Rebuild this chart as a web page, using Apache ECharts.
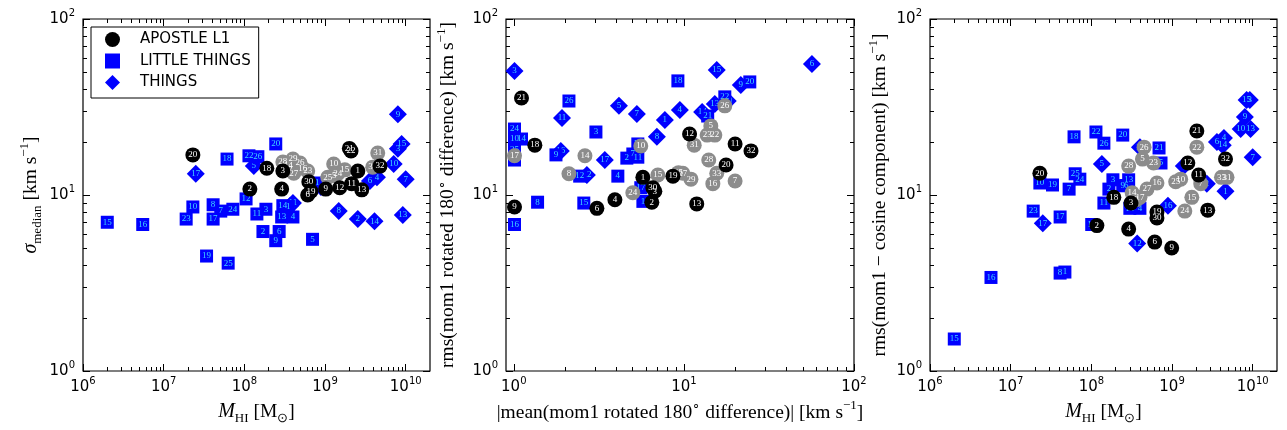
<!DOCTYPE html>
<html>
<head>
<meta charset="utf-8">
<script src="https://cdn.jsdelivr.net/npm/echarts@6/dist/echarts.min.js"></script>
<style>
html,body{margin:0;padding:0;background:#fff}
#main{width:1287px;height:430px}
</style>
</head>
<body>
<div id="main"></div>
<script>
// axis ranges and decade tick exponents
var massRange = [1e6, 2e10];
var meanRange = [0.9, 100];
var rmsRange = [1, 100];
var massExp = [6, 7, 8, 9, 10];
var meanExp = [0, 1, 2];
var rmsExp = [0, 1, 2];

// panel 1: sigma_median vs M_HI   [x, y, galaxy number]
var p1Apostle = [[2.3e7,16.9,20],[1.9e8,14.2,18],[3.0e8,13.7,3],[2.0e9,18.4,21],[2.1e9,17.8,22],[2.55e9,13.7,1],[4.8e9,14.6,32],[1.17e8,10.8,2],[2.9e8,10.8,4],[6.3e8,11.9,30],[6.7e8,10.5,19],[6.1e8,10.0,6],[1.02e9,10.8,9],[1.52e9,11.0,12],[2.14e9,11.6,11],[2.85e9,10.7,13]];
var p1Grey = [[3.0e8,15.4,28],[4.0e8,16.0,29],[4.9e8,15.2,26],[4.1e8,13.3,27],[3.5e8,14.6,14],[6.1e8,13.7,23],[1.28e9,15.0,10],[1.44e9,13.2,24],[1.08e9,12.6,25],[1.76e9,13.9,15],[4.5e9,17.3,31],[3.9e9,14.4,33],[5.3e8,14.2,16],[3.5e8,13.9,17],[1.3e9,12.9,5]];
var p1Little = [[2.0e6,7.0,15],[5.5e6,6.8,16],[1.9e7,7.3,23],[2.3e7,8.55,10],[4.1e7,8.8,8],[5.1e7,8.1,7],[4.1e7,7.3,17],[7.2e7,8.3,24],[6.1e7,16.0,18],[3.4e7,4.5,19],[6.3e7,4.1,25],[2.45e8,19.5,20],[1.14e8,16.7,22],[1.47e8,16.5,26],[1.05e8,9.5,12],[1.85e8,8.3,3],[1.43e8,7.8,11],[3.0e8,8.7,14],[2.9e8,7.5,13],[4.0e8,7.5,4],[1.7e8,6.2,2],[2.7e8,6.2,6],[2.45e8,5.5,9],[7.0e8,5.6,5],[7.5e8,11.7,21],[3.5e8,8.6,1]];
var p1Things = [[2.5e7,13.2,17],[1.31e8,14.6,5],[4.0e8,9.0,11],[3.7e8,8.7,12],[8.9e8,11.1,16],[1.48e9,8.1,8],[2.55e9,7.3,2],[4.1e9,7.1,14],[3.6e9,12.0,6],[4.4e9,12.6,4],[7.1e9,15.0,10],[8.0e9,28.8,9],[8.9e9,19.5,15],[8.0e9,18.3,3],[1.0e10,12.3,7],[9.2e9,7.7,13]];

// panel 2: rms vs |mean| of mom1 rotated 180 deg difference
var p2Apostle = [[1.11,35.6,21],[1.33,19.2,18],[1.01,8.55,9],[3.08,8.4,6],[3.93,9.4,4],[5.74,12.6,1],[6.57,11.0,30],[6.75,10.5,3],[6.48,9.1,2],[8.62,12.8,19],[10.8,22.2,12],[20.0,19.5,11],[24.8,17.8,32],[17.7,14.8,20],[11.9,8.9,13]];
var p2Grey = [[1.01,16.7,17],[2.62,16.7,14],[2.11,13.2,8],[5.58,19.0,10],[7.03,13.0,15],[5.01,10.3,24],[14.4,24.7,5],[13.7,21.9,23],[15.2,21.9,22],[11.5,19.2,31],[17.4,32.1,26],[14.0,15.8,28],[15.6,13.3,33],[9.86,13.3,27],[9.3,13.4,25],[11.0,12.3,29],[14.8,11.6,16],[20.0,12.0,7]];
var p2Little = [[1.01,23.7,24],[1.01,20.8,10],[1.11,20.8,14],[1.01,18.0,25],[1.01,15.8,23],[2.11,34.2,26],[3.04,22.8,3],[1.77,16.9,9],[4.62,16.2,2],[5.01,17.1,7],[5.36,16.4,11],[5.36,19.5,19],[2.44,12.8,12],[4.09,12.8,4],[5.58,11.0,17],[5.74,9.2,1],[2.58,9.0,15],[1.38,9.1,8],[1.01,6.8,16],[9.22,44.5,18],[24.4,43.9,20],[17.4,36.1,22],[13.8,28.1,21]];
var p2Things = [[1.01,50.7,3],[1.92,27.4,11],[4.15,32.1,5],[5.29,28.9,7],[7.73,26.7,1],[6.94,21.4,8],[9.47,30.4,4],[1.89,17.8,16],[3.43,15.8,17],[2.69,13.0,12],[15.6,51.3,15],[21.6,42.2,9],[12.8,29.6,14],[15.2,32.9,13],[18.1,34.2,10],[56.6,55.5,6]];

// panel 3: rms(mom1 - cosine component) vs M_HI
var p3Apostle = [[2.3e7,13.3,20],[1.17e8,6.7,2],[1.9e8,9.7,18],[3.1e8,9.0,3],[2.9e8,6.4,4],[6.5e8,8.0,19],[6.5e8,7.4,30],[6.1e8,5.4,6],[9.9e8,5.0,9],[2.03e9,23.1,21],[1.57e9,15.2,12],[2.14e9,13.0,11],[4.6e9,16.0,32],[2.77e9,8.2,13]];
var p3Grey = [[4.5e8,18.7,26],[2.9e8,14.6,28],[4.3e8,16.0,5],[5.9e8,15.2,23],[3.2e8,10.3,14],[4.9e8,10.8,27],[6.5e8,11.7,16],[1.11e9,11.9,25],[1.28e9,12.3,10],[4.0e8,9.7,17],[1.44e9,8.1,24],[1.76e9,9.7,15],[2.03e9,18.7,22],[2.27e9,11.6,7],[4.1e9,12.6,33],[4.8e9,12.6,31],[3.6e8,9.4,8]];
var p3Little = [[2.0e6,1.52,15],[5.7e6,3.4,16],[4.1e7,3.6,8],[4.7e7,3.65,1],[1.9e7,8.1,23],[4.1e7,7.5,17],[2.3e7,11.7,10],[3.3e7,11.4,19],[5.3e7,10.8,7],[6.3e7,13.2,25],[7.2e7,12.3,24],[6.1e7,21.4,18],[1.14e8,22.8,22],[2.45e8,21.9,20],[1.43e8,19.7,26],[6.9e8,18.5,21],[1.85e8,12.2,3],[2.9e8,12.2,13],[2.45e8,11.3,9],[2.7e8,11.3,6],[1.65e8,10.8,2],[1.43e8,9.0,11],[3.0e8,8.4,14],[4.0e8,8.4,4],[1.01e8,6.8,12],[7.3e8,15.2,5]];
var p3Things = [[2.5e7,6.9,17],[1.35e8,15.0,5],[8.9e8,8.7,16],[3.7e8,5.3,12],[4.0e8,18.7,11],[1.4e9,14.6,8],[2.7e9,11.6,2],[4.6e9,10.5,1],[3.6e9,20.0,6],[4.4e9,21.1,4],[4.25e9,19.2,14],[1.0e10,16.4,7],[8.4e9,34.7,15],[9.2e9,34.7,3],[8.0e9,27.7,9],[7.1e9,23.7,10],[9.4e9,23.7,13]];

var serif = 'Liberation Serif';
var nameRich = {
    it: {fontFamily: serif, fontStyle: 'italic', fontSize: 20, lineHeight: 26, color: '#000'},
    n: {fontFamily: serif, fontSize: 19.5, lineHeight: 26, color: '#000'},
    sub: {fontFamily: serif, fontSize: 13, lineHeight: 13, verticalAlign: 'bottom', color: '#000'},
    sup: {fontFamily: serif, fontSize: 13, lineHeight: 13, verticalAlign: 'top', color: '#000'}
};
var tickRich = {
    b: {fontFamily: 'DejaVu Sans', fontSize: 15, lineHeight: 22, color: '#000'},
    s: {fontFamily: 'DejaVu Sans', fontSize: 10, lineHeight: 12, verticalAlign: 'top', color: '#000'}
};
var kms = '{n| [km s}{sup|−1}{n|]}';

function lg(v) { return Math.log(v) / Math.LN10; }

function minorTicks(range) {
    var out = [], lo = Math.floor(lg(range[0])), hi = Math.ceil(lg(range[1]));
    for (var e = lo; e < hi; e++) {
        for (var k = 2; k < 10; k++) {
            var t = e + lg(k);
            if (t >= lg(range[0]) - 1e-9 && t <= lg(range[1]) + 1e-9) out.push(t);
        }
    }
    return out;
}

// decorative value axis in log10 space, only used for ticks / labels
function decoAxis(g, range, pos, ticks, len, withLabels) {
    return {
        type: 'value', gridIndex: g, position: pos,
        min: lg(range[0]), max: lg(range[1]),
        axisLine: {show: false, onZero: false},
        splitLine: {show: false},
        axisTick: {show: true, inside: true, length: len, customValues: ticks,
            lineStyle: {color: '#000', width: 1}},
        axisLabel: withLabels ? {
            show: true, customValues: ticks, margin: pos === 'bottom' ? 5 : 8,
            formatter: function (v) { return '{b|10}{s|' + Math.round(v) + '}'; },
            rich: tickRich
        } : {show: false}
    };
}

var panels = [
    {left: 83, width: 347, xr: massRange, xe: massExp, yr: rmsRange, ye: rmsExp,
        xName: '{it|M}{sub|HI}{n| [M}{sub|⊙}{n|]}',
        yName: '{it|σ}{sub|median}' + kms, yGap: 39,
        groups: [p1Things, p1Little, p1Grey, p1Apostle]},
    {left: 506, width: 348, xr: meanRange, xe: meanExp, yr: rmsRange, ye: rmsExp,
        xName: '{n||mean(mom1 rotated 180}{sup|∘}{n| difference)|}' + kms,
        yName: '{n|rms(mom1 rotated 180}{sup|∘}{n| difference)}' + kms, yGap: 45,
        groups: [p2Things, p2Little, p2Grey, p2Apostle]},
    {left: 930, width: 347, xr: massRange, xe: massExp, yr: rmsRange, ye: rmsExp,
        xName: '{it|M}{sub|HI}{n| [M}{sub|⊙}{n|]}',
        yName: '{n|rms(mom1 − cosine component)}' + kms, yGap: 37,
        groups: [p3Things, p3Little, p3Grey, p3Apostle]}
];

var groupStyle = [
    {name: 'THINGS', symbol: 'diamond', size: 18, color: '#0000ff', text: '#3fd6ff'},
    {name: 'LITTLE THINGS', symbol: 'rect', size: 13, color: '#0000ff', text: '#3fd6ff'},
    {name: 'APOSTLE L1 grey', symbol: 'circle', size: 15, color: '#8c8c8c', text: '#ffffff'},
    {name: 'APOSTLE L1', symbol: 'circle', size: 15, color: '#000000', text: '#ffffff'}
];

var grids = [], xAxes = [], yAxes = [], series = [];
panels.forEach(function (p, g) {
    grids.push({left: p.left, top: 19, width: p.width, height: 352,
        show: true, borderColor: '#000', borderWidth: 1.2, backgroundColor: 'transparent'});
    var xMain = xAxes.length, yMain = yAxes.length;
    xAxes.push({type: 'log', logBase: 10, gridIndex: g, min: p.xr[0], max: p.xr[1], show: false});
    yAxes.push({type: 'log', logBase: 10, gridIndex: g, min: p.yr[0], max: p.yr[1], show: false});

    var xb = decoAxis(g, p.xr, 'bottom', p.xe, 7, true);
    xb.name = p.xName;
    xb.nameLocation = 'middle';
    xb.nameGap = 28;
    xb.nameTextStyle = {rich: nameRich};
    xAxes.push(xb);
    xAxes.push(decoAxis(g, p.xr, 'bottom', minorTicks(p.xr), 4, false));
    xAxes.push(decoAxis(g, p.xr, 'top', p.xe, 7, false));
    xAxes.push(decoAxis(g, p.xr, 'top', minorTicks(p.xr), 4, false));

    var yl = decoAxis(g, p.yr, 'left', p.ye, 7, true);
    yl.name = p.yName;
    yl.nameLocation = 'middle';
    yl.nameGap = p.yGap;
    yl.nameRotate = 90;
    yl.nameTextStyle = {rich: nameRich};
    yAxes.push(yl);
    yAxes.push(decoAxis(g, p.yr, 'left', minorTicks(p.yr), 4, false));
    yAxes.push(decoAxis(g, p.yr, 'right', p.ye, 7, false));
    yAxes.push(decoAxis(g, p.yr, 'right', minorTicks(p.yr), 4, false));

    p.groups.forEach(function (data, k) {
        var st = groupStyle[k];
        series.push({
            type: 'scatter', name: st.name,
            xAxisIndex: xMain, yAxisIndex: yMain,
            symbol: st.symbol, symbolSize: st.size,
            itemStyle: {color: st.color, opacity: 1},
            z: 2 + k,
            label: {show: true, position: 'inside', color: st.text,
                fontFamily: serif, fontSize: 9,
                formatter: function (q) { return q.value[2]; }},
            emphasis: {disabled: true},
            data: data
        });
    });
});

var chart = echarts.init(document.getElementById('main'), null, {renderer: 'canvas'});
chart.setOption({
    animation: false,
    grid: grids,
    xAxis: xAxes,
    yAxis: yAxes,
    legend: {
        data: [{name: 'APOSTLE L1', icon: 'circle'}, {name: 'LITTLE THINGS', icon: 'rect'}, {name: 'THINGS', icon: 'diamond'}],
        orient: 'vertical', left: 91, top: 27,
        itemWidth: 15, itemHeight: 15, itemGap: 6.5,
        padding: [5, 8, 8, 14],
        backgroundColor: '#fff', borderColor: '#000', borderWidth: 1, borderRadius: 0,
        textStyle: {fontFamily: 'DejaVu Sans', fontSize: 15, lineHeight: 15, color: '#000', padding: [0, 0, 0, 15]},
        selectedMode: false
    },
    series: series
});
window.addEventListener('resize', function () { chart.resize(); });
</script>
</body>
</html>
